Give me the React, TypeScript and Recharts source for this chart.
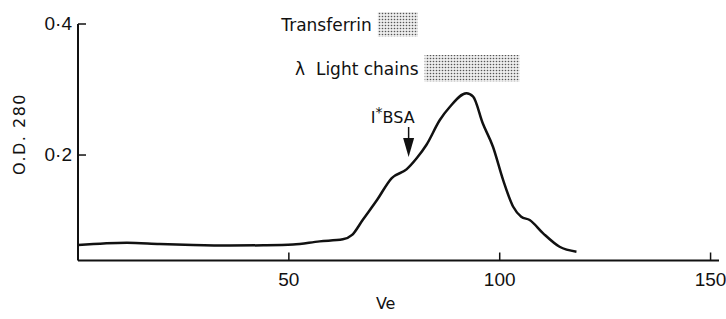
import { Label, Line, LineChart, ReferenceArea, ReferenceDot, XAxis, YAxis } from "recharts";

const FONT = "'DejaVu Sans', sans-serif";
const NUM_FONT = "'Liberation Sans', sans-serif";
const INK = "#111";

// elution volume (Ve) and optical density
const veValues = [
  0, 11.6, 19.4, 27.3, 36, 44, 51, 57.3, 62.8, 65, 67.5, 70.9, 74.4,
  77.9, 80.3, 82.6, 85.8, 88.2, 92.1, 93.7, 96, 98.4, 100.8, 103.2, 105.1,
  107.1, 110.3, 114.2, 118.2,
];
const odValues = [
  0.0626, 0.0661, 0.0641, 0.0626, 0.0618, 0.0622, 0.0634, 0.0682, 0.0713,
  0.078, 0.1008, 0.1313, 0.1649, 0.1781, 0.195, 0.2153, 0.2534,
  0.2737, 0.2942, 0.289, 0.248, 0.2127, 0.162, 0.121, 0.1058, 0.1008, 0.0805,
  0.06, 0.0524,
];

const xTicks = [50, 100, 150];
const yTicks = [0.2, 0.4];

// shaded bands: [label, veFrom, veTo, odFrom, odTo]
const bands: [string, number, number, number, number][] = [
  ["Transferrin", 71.1, 80.6, 0.3802, 0.4183],
  ["λ\u00a0 Light chains", 82.2, 104.7, 0.3115, 0.3527],
];

const bsaMarker = { ve: 78.4, od: 0.197 };

const data = veValues.map((ve, i) => ({ ve, od: odValues[i] }));

function XTick({ x, y, payload }: any) {
  return (
    <g>
      <line x1={x} x2={x} y1={y} y2={y - 8} stroke={INK} strokeWidth={1.5} />
      <text x={x} y={y + 25} textAnchor="middle" fontFamily={NUM_FONT} fontSize={19} fill={INK}>
        {payload.value}
      </text>
    </g>
  );
}

function YTick({ x, y, payload }: any) {
  return (
    <g>
      <line x1={x} x2={x + 8} y1={y} y2={y} stroke={INK} strokeWidth={1.5} />
      <text x={x - 6} y={y + 6} textAnchor="end" fontFamily={NUM_FONT} fontSize={19} fill={INK}>
        {payload.value.toFixed(1).replace(".", "·")}
      </text>
    </g>
  );
}

function BsaArrow({ cx, cy }: any) {
  return (
    <g>
      <line x1={cx} x2={cx} y1={cy - 30} y2={cy - 16} stroke={INK} strokeWidth={1.5} />
      <polygon points={`${cx - 5.5},${cy - 19} ${cx + 5.5},${cy - 19} ${cx},${cy}`} fill={INK} />
      <text x={cx + 6} y={cy - 34} textAnchor="end" fontFamily={FONT} fontSize={16} fill={INK}>
        <tspan>I</tspan>
        <tspan dy={-6} fontSize={14}>*</tspan>
        <tspan dy={6}>BSA</tspan>
      </text>
    </g>
  );
}

export default function App() {
  return (
    <div style={{ position: "absolute", left: 0, top: 0, background: "#fff" }}>
      <LineChart width={726} height={319} data={data} margin={{ top: 24, right: 7, bottom: 0, left: 0 }}>
        <defs>
          <pattern id="stipple" width={3} height={3} patternUnits="userSpaceOnUse">
            <rect width={3} height={3} fill="#ececec" />
            <circle cx={1.5} cy={1.5} r={0.8} fill="#555" />
          </pattern>
        </defs>
        <XAxis
          dataKey="ve"
          type="number"
          domain={[0, 152]}
          ticks={xTicks}
          height={58.5}
          tickLine={false}
          tickSize={0}
          tickMargin={0}
          tick={<XTick />}
          axisLine={{ stroke: INK, strokeWidth: 2 }}
        >
          <Label
            content={({ viewBox }: any) => (
              <text
                x={viewBox.x + viewBox.width * 0.48}
                y={viewBox.y + 48}
                textAnchor="middle"
                fontFamily={FONT}
                fontSize={16}
                fill={INK}
              >
                Ve
              </text>
            )}
          />
        </XAxis>
        <YAxis
          type="number"
          domain={[0.039, 0.4]}
          allowDataOverflow
          ticks={yTicks}
          width={78}
          tickLine={false}
          tickSize={0}
          tickMargin={0}
          tick={<YTick />}
          axisLine={{ stroke: INK, strokeWidth: 2 }}
        >
          <Label
            content={() => (
              <text
                x={0}
                y={0}
                transform="translate(25 134) rotate(-90)"
                textAnchor="middle"
                fontFamily={FONT}
                fontSize={16}
                letterSpacing={1.5}
                fill={INK}
              >
                O.D. 280
              </text>
            )}
          />
        </YAxis>
        {bands.map(([name, x1, x2, y1, y2]) => (
          <ReferenceArea
            key={name}
            x1={x1}
            x2={x2}
            y1={y1}
            y2={y2}
            ifOverflow="visible"
            fill="url(#stipple)"
            fillOpacity={1}
            stroke="none"
            label={{
              value: name,
              position: "left",
              offset: 6,
              fontFamily: FONT,
              fontSize: 17,
              fill: INK,
            }}
          />
        ))}
        <Line
          type="monotone"
          dataKey="od"
          stroke={INK}
          strokeWidth={2.5}
          dot={false}
          isAnimationActive={false}
        />
        <ReferenceDot x={bsaMarker.ve} y={bsaMarker.od} ifOverflow="visible" shape={<BsaArrow />} />
      </LineChart>
    </div>
  );
}
